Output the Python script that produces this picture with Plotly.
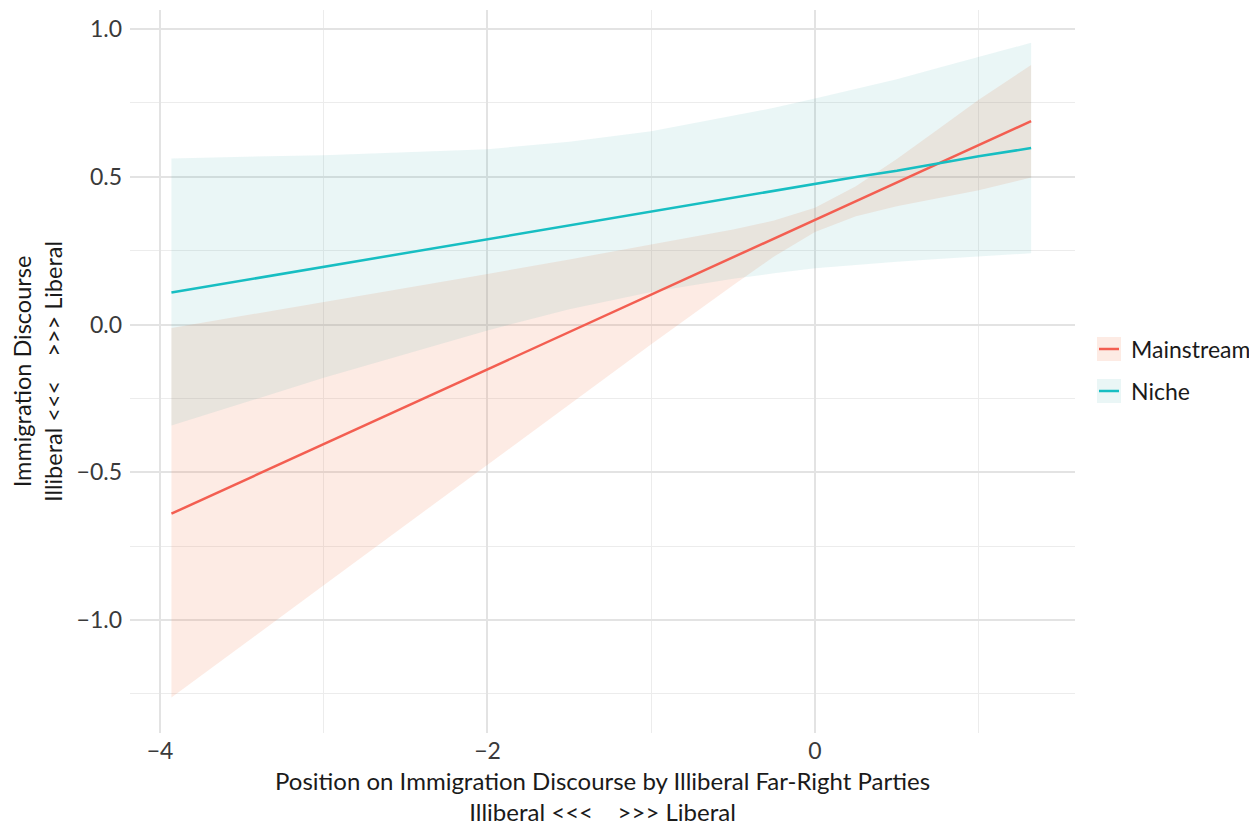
import plotly.graph_objects as go

# ---- data ----
x_vals = [-3.93, -3.0, -2.0, -1.5, -1.0, -0.5, -0.25, 0.0, 0.25, 0.5, 0.75, 1.0, 1.32]

main_fit = [-0.640, -0.405, -0.152, -0.025, 0.101, 0.227, 0.291, 0.354, 0.417, 0.480, 0.544, 0.607, 0.688]
main_low = [-1.262, -0.882, -0.474, -0.270, -0.067, 0.133, 0.230, 0.313, 0.366, 0.400, 0.428, 0.454, 0.497]
main_up = [-0.012, 0.075, 0.171, 0.220, 0.270, 0.321, 0.352, 0.395, 0.468, 0.560, 0.660, 0.760, 0.878]

niche_fit = [0.108, 0.195, 0.288, 0.335, 0.381, 0.430, 0.453, 0.476, 0.499, 0.520, 0.545, 0.569, 0.597]
niche_low = [-0.342, -0.180, -0.020, 0.052, 0.110, 0.155, 0.173, 0.190, 0.201, 0.212, 0.222, 0.231, 0.241]
niche_up = [0.562, 0.573, 0.593, 0.618, 0.654, 0.705, 0.733, 0.765, 0.797, 0.830, 0.868, 0.905, 0.953]

series_names = ["Mainstream", "Niche"]
line_colors = ["#F35E51", "#17BEC2"]
fill_colors = ["rgba(245,130,90,0.16)", "rgba(45,165,165,0.10)"]

x_title = ("Position on Immigration Discourse by Illiberal Far-Right Parties<br>"
           "Illiberal &lt;&lt;&lt;\u00a0\u00a0\u00a0\u00a0&gt;&gt;&gt; Liberal")
y_title = "Immigration Discourse<br>Illiberal &lt;&lt;&lt;\u00a0\u00a0\u00a0\u00a0&gt;&gt;&gt; Liberal"

FONT = "Lato, 'Open Sans', sans-serif"

fig = go.Figure()

bands = [(main_low, main_up), (niche_low, niche_up)]
fits = [main_fit, niche_fit]

for (lo, up), fc in zip(bands, fill_colors):
    fig.add_trace(go.Scatter(
        x=x_vals + x_vals[::-1],
        y=up + lo[::-1],
        fill="toself", fillcolor=fc, mode="lines",
        line=dict(width=0), hoverinfo="skip", showlegend=False,
    ))

for fit, name, lc in zip(fits, series_names, line_colors):
    fig.add_trace(go.Scatter(
        x=x_vals, y=fit, mode="lines", name=name,
        line=dict(color=lc, width=2.5), showlegend=False,
    ))

# page offset (body margin) and plot area in window pixels
OFF = 8
WIN_W, WIN_H = 1257, 829
L, R, T, B = 130, 1075, 10, 733
W = WIN_W - OFF
H = WIN_H - OFF


def px_x(p):
    return (p - L) / (R - L)


def px_y(p):
    return (B - p) / (B - T)


# manual legend (key box + line + label), window pixel positions
legend_rows = [349, 391]
for name, lc, fc, cy in zip(series_names, line_colors, fill_colors, legend_rows):
    fig.add_shape(type="rect", xref="paper", yref="paper",
                  x0=px_x(1097), x1=px_x(1121), y0=px_y(cy + 12), y1=px_y(cy - 12),
                  fillcolor=fc, line=dict(width=0), layer="above")
    fig.add_shape(type="line", xref="paper", yref="paper",
                  x0=px_x(1099), x1=px_x(1119), y0=px_y(cy), y1=px_y(cy),
                  line=dict(color=lc, width=2.5), layer="above")
    fig.add_annotation(xref="paper", yref="paper", x=px_x(1129), y=px_y(cy),
                       xanchor="left", yanchor="middle", showarrow=False,
                       text=name, font=dict(family=FONT, size=23, color="#1a1a1a"))

# x-axis title as a single two-line annotation placed at the bottom
fig.add_annotation(xref="paper", yref="paper", x=0.5, y=px_y(827),
                   xanchor="center", yanchor="bottom", showarrow=False,
                   borderpad=0, align="center",
                   text=x_title, font=dict(family=FONT, size=24, color="#1a1a1a"))

grid_major = "#e3e3e3"
grid_minor = "#ececec"

fig.update_layout(
    width=W, height=H,
    margin=dict(l=L - OFF, r=W - (R - OFF), t=T - OFF, b=H - (B - OFF), autoexpand=False),
    paper_bgcolor="white", plot_bgcolor="white",
    font=dict(family=FONT, size=23, color="#1a1a1a"),
    xaxis=dict(
        range=[-4.183, 1.588], tick0=0, dtick=2, showline=False, zeroline=False,
        ticks="", showgrid=True, gridcolor=grid_major, gridwidth=1.6,
        minor=dict(dtick=1, tick0=0, showgrid=True, gridcolor=grid_minor, gridwidth=1.1),
        tickfont=dict(family=FONT, size=23, color="#3a3a3a"),
        ticklabelstandoff=2,
        automargin=False,
    ),
    yaxis=dict(
        range=[-1.382, 1.064], tick0=0, dtick=0.5, tickformat=".1f", showline=False,
        zeroline=False, ticks="", showgrid=True, gridcolor=grid_major, gridwidth=1.6,
        minor=dict(dtick=0.25, tick0=0, showgrid=True, gridcolor=grid_minor, gridwidth=1.1),
        tickfont=dict(family=FONT, size=23, color="#3a3a3a"),
        ticklabelstandoff=7,
        title=dict(text=y_title, font=dict(family=FONT, size=23.5, color="#1a1a1a"), standoff=15),
        automargin=False,
    ),
    showlegend=False,
)

fig.write_html("out.html")
